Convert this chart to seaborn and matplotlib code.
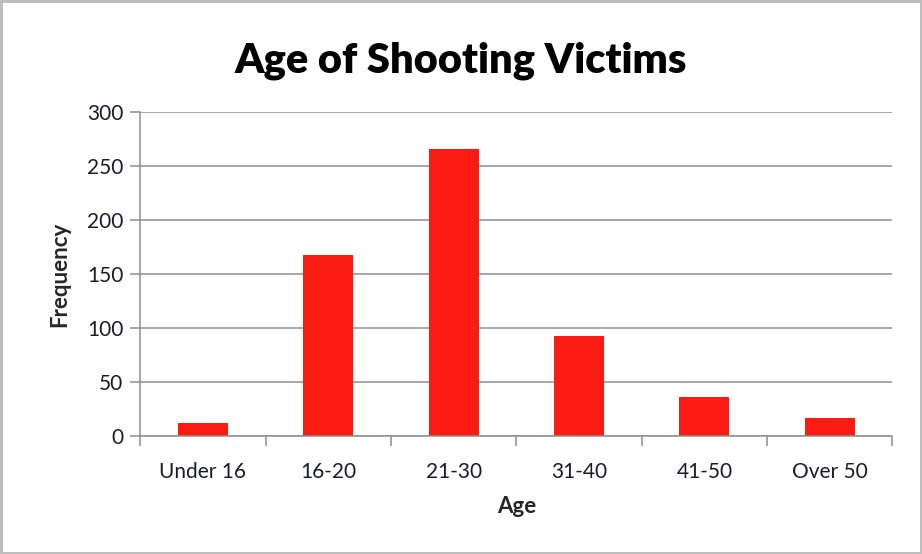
import matplotlib

matplotlib.use("Agg")

import matplotlib.pyplot as plt
import numpy as np
import pandas as pd
import seaborn as sns
from matplotlib.ticker import FixedLocator, NullFormatter

# data
age_groups = ["Under 16", "16-20", "21-30", "31-40", "41-50", "Over 50"]
victims = [12, 168, 266, 93, 36, 17]
y_ticks = [0, 50, 100, 150, 200, 250, 300]

frame = pd.DataFrame({"age": age_groups, "frequency": victims})

sns.set_theme(style="white")
plt.rcParams["font.family"] = ["Lato", "DejaVu Sans"]

fig = plt.figure(figsize=(9.22, 5.54), dpi=100, facecolor="white",
                 edgecolor="#bdbdbd", linewidth=2.5)
ax = fig.add_axes([0.152, 0.213, 0.816, 0.585])

sns.barplot(data=frame, x="age", y="frequency", color="#FA1C12",
            saturation=1, width=0.4, edgecolor="none", ax=ax)

ax.set_ylim(0, 300)
ax.set_xlim(-0.5, len(age_groups) - 0.5)
ax.set_yticks(y_ticks)
ax.yaxis.grid(True, color="#8e8e8e", linewidth=1.1)
ax.set_axisbelow(True)

# category boundary ticks, labels centred between them
ax.xaxis.set_major_locator(FixedLocator(np.arange(-0.5, len(age_groups), 1.0)))
ax.xaxis.set_major_formatter(NullFormatter())
ax.xaxis.set_minor_locator(FixedLocator(np.arange(len(age_groups))))
ax.set_xticklabels(age_groups, minor=True)
ax.tick_params(axis="x", which="major", direction="out", length=7,
               width=1.1, color="#8e8e8e", bottom=True)
ax.tick_params(axis="x", which="minor", length=0, pad=19,
               labelsize=15, labelcolor="#1c1c28", bottom=True)
ax.tick_params(axis="y", direction="out", length=7, width=1.1,
               color="#8e8e8e", left=True, labelsize=15, labelcolor="#1c1c28", pad=5)

for side in ["top", "right"]:
    ax.spines[side].set_visible(False)
for side in ["left", "bottom"]:
    ax.spines[side].set_color("#8e8e8e")
    ax.spines[side].set_linewidth(1.1)

ax.set_xlabel("Age", fontsize=16, fontweight="bold", labelpad=10)
ax.set_ylabel("Frequency", fontsize=16, fontweight="bold", labelpad=12)
fig.suptitle("Age of Shooting Victims", fontsize=30, fontweight="heavy",
             y=0.925, color="black")

fig.savefig("out.png", dpi=100, facecolor=fig.get_facecolor(),
            edgecolor=fig.get_edgecolor())
